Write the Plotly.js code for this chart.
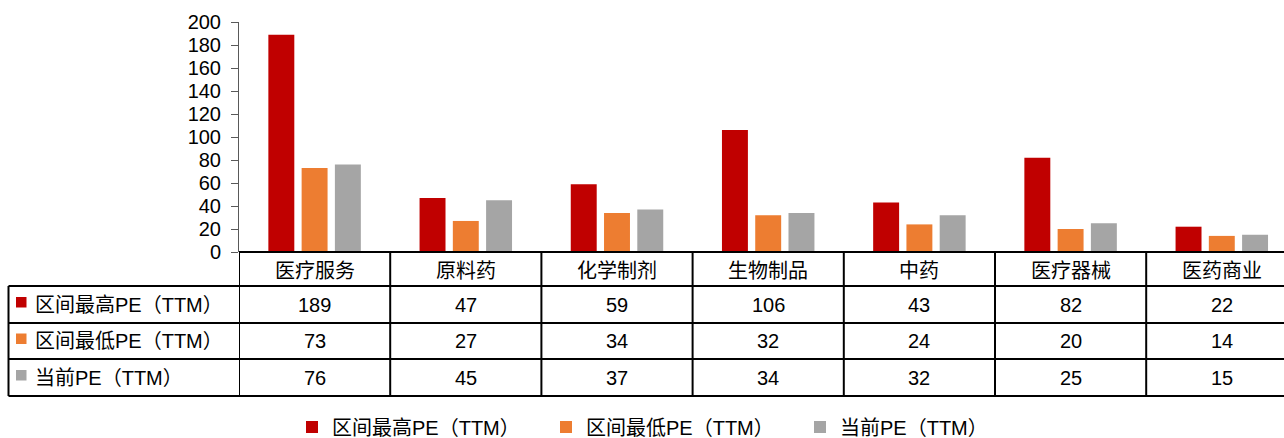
<!DOCTYPE html>
<html>
<head>
<meta charset="utf-8">
<script src="https://cdn.plot.ly/plotly-3.0.1.min.js"></script>
<style>html,body{margin:0;padding:0;background:#fff;}#chart{width:1284px;height:438px;}</style>
</head>
<body>
<div id="chart"></div>
<script>
const categories = ['医疗服务','原料药','化学制剂','生物制品','中药','医疗器械','医药商业'];
const highPE = [189,47,59,106,43,82,22];
const lowPE = [73,27,34,32,24,20,14];
const curPE = [76,45,37,34,32,25,15];
const seriesNames = ['区间最高PE（TTM）','区间最低PE（TTM）','当前PE（TTM）'];
const seriesColors = ['#C00000','#ED7D31','#A5A5A5'];
const yTicks = [0,20,40,60,80,100,120,140,160,180,200];

const W = 1284, H = 438;
const L = 239, T = 22, B = 252;          // plot area edges in px
const plotW = W - L, plotH = B - T;
const colW = 151.2;
const FONT = 'Liberation Sans, Arial, Noto Sans CJK SC, sans-serif';
const CJK = 'Noto Sans CJK SC, sans-serif';

const px2x = p => (p - L) / plotW;       // paper x
const px2y = p => (B - p) / plotH;       // paper y

const seriesData = [highPE, lowPE, curPE];
const traces = seriesData.map((vals, i) => ({
  type: 'bar', x: categories, y: vals, name: seriesNames[i],
  marker: {color: seriesColors[i], line: {width: 0}}, hoverinfo: 'skip'
}));

const rowLines = [252, 286, 323, 359, 396];
const rowCenters = [269, 304.5, 341, 377.5];
const shapes = [];
const annotations = [];
// horizontal table lines
rowLines.forEach((py, k) => {
  shapes.push({type:'line', xref:'paper', yref:'paper',
    x0: k === 0 ? 0 : px2x(8.5), x1: 1.05, y0: px2y(py), y1: px2y(py),
    line:{color:'#000', width:2}});
});
// vertical column lines
for (let i = 0; i < categories.length; i++) {
  shapes.push({type:'line', xref:'x', yref:'paper', x0: i - 0.5, x1: i - 0.5,
    y0: px2y(252), y1: px2y(396), line:{color:'#000', width:2}});
}
// left border
shapes.push({type:'line', xref:'paper', yref:'paper', x0: px2x(8.5), x1: px2x(8.5),
  y0: px2y(286), y1: px2y(396), line:{color:'#000', width:2}});

// header
categories.forEach((c, i) => {
  annotations.push({xref:'x', yref:'paper', x: i, y: px2y(rowCenters[0]), text: c,
    showarrow:false, xanchor:'center', yanchor:'middle', font:{family:CJK, size:20, color:'#000'}});
});
// rows
seriesData.forEach((vals, r) => {
  const yc = px2y(rowCenters[r+1]);
  shapes.push({type:'rect', xref:'paper', yref:'paper', x0: px2x(16), x1: px2x(26.5),
    y0: px2y(rowCenters[r+1] + 3), y1: px2y(rowCenters[r+1] - 7.5),
    fillcolor: seriesColors[r], line:{width:0}});
  annotations.push({xref:'paper', yref:'paper', x: px2x(33), y: yc, text: seriesNames[r],
    showarrow:false, xanchor:'left', yanchor:'middle', font:{family:FONT, size:20, color:'#000'}});
  vals.forEach((v, i) => {
    annotations.push({xref:'x', yref:'paper', x: i, y: yc, text: String(v),
      showarrow:false, xanchor:'center', yanchor:'middle', font:{family:FONT, size:20, color:'#000'}});
  });
});

const layout = {
  width: W, height: H,
  margin: {l: L, r: 0, t: T, b: H - B, pad: 0},
  paper_bgcolor: '#fff', plot_bgcolor: '#fff',
  barmode: 'group', bargap: 0.34, bargroupgap: 0.22,
  showlegend: true,
  legend: {orientation:'h', xref:'container', yref:'container', x:0.5 + 31/W, xanchor:'center',
    y: 1 - 427/438, yanchor:'middle', font:{family:FONT, size:20, color:'#000'},
    entrywidth: 209, entrywidthmode:'pixels', traceorder:'normal', bgcolor:'rgba(0,0,0,0)'},
  xaxis: {type:'category', range:[-0.5, -0.5 + plotW / colW], showticklabels:false,
    showline:false, showgrid:false, zeroline:false, ticks:'', fixedrange:true},
  yaxis: {range:[0,200], tickvals: yTicks, ticktext: yTicks.map(String), showgrid:false, zeroline:false,
    showline:true, linecolor:'#595959', linewidth:1, ticks:'outside', ticklen:7, tickcolor:'#595959',
    tickfont:{family:FONT, size:20, color:'#000'}, ticklabelstandoff: 6, fixedrange:true},
  shapes: shapes, annotations: annotations
};
Plotly.newPlot('chart', traces, layout, {displayModeBar:false, staticPlot:true});
</script>
</body>
</html>
